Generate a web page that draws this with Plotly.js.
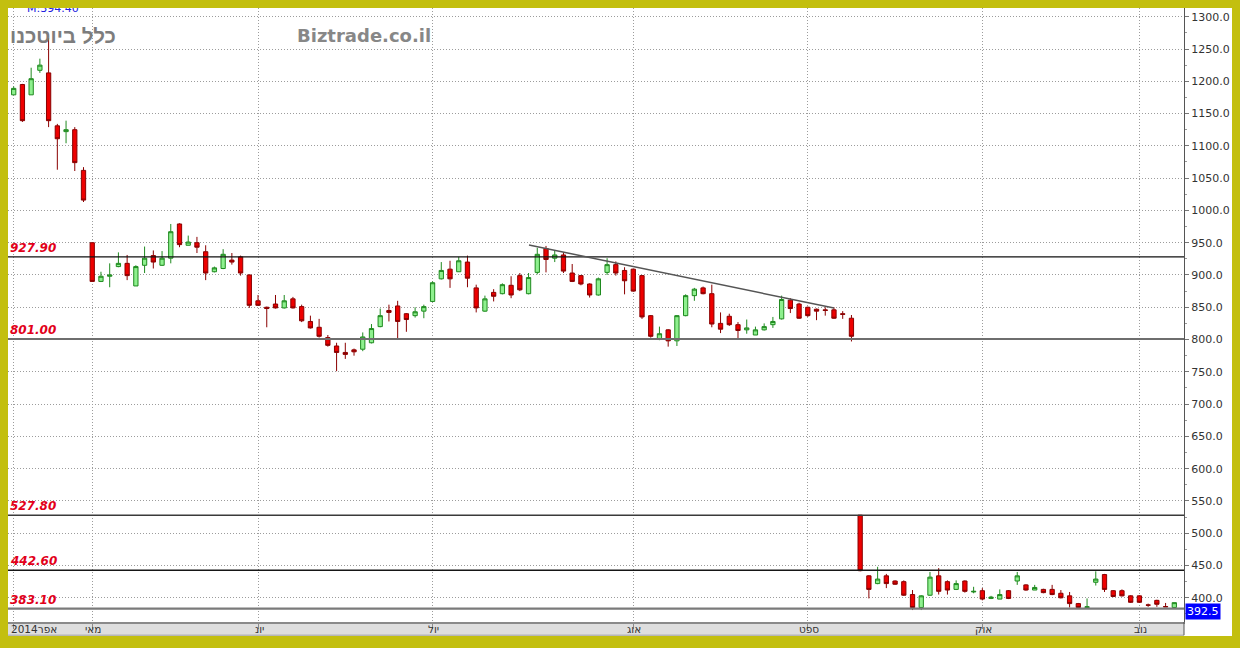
<!DOCTYPE html>
<html>
<head>
<meta charset="utf-8">
<script src="https://cdn.plot.ly/plotly-3.0.1.min.js"></script>
<style>
  html, body { margin: 0; padding: 0; background: #c3bf0f; width: 1240px; height: 648px; overflow: hidden; }
  #chart { position: absolute; left: 8px; top: 8px; width: 1224px; height: 628px; overflow: hidden; background: #fff; }
</style>
</head>
<body>
<div id="chart"></div>
<script>
// ---- data ----
const openP = [1179,1195,1179,1217,1213,1131,1122,1125,1062,950,
  890,898,913,918,883,915,930,915,926,979,
  946,950,936,905,910,923,928,900,860,850,
  855,849,863,851,828,819,803,790,780,784,
  785,795,820,845,852,840,837,844,859,894,
  909,905,920,880,844,873,871,884,899,871,
  904,941,926,931,903,899,886,869,904,916,
  907,909,899,837,800,815,798,837,868,880,
  871,825,836,823,815,807,815,823,832,861,
  855,850,847,846,846,840,833,528,434,422,
  434,426,425,405,385,404,434,425,413,426,
  409,411,399,398,411,426,420,412,413,413,
  407,403,391,385,424,436,411,411,403,403,
  389,396,386.5,385];
const highP = [1192,1196,1221,1235,1267,1134,1139,1129,1067,950,
  905,918,935,931,915,944,938,937,979,980,
  961,959,946,913,940,934,930,901,869,851,
  869,869,866,854,837,832,807,795,795,786,
  811,824,848,854,860,841,850,854,890,920,
  922,928,930,885,868,878,887,898,903,903,
  942,945,938,935,917,900,887,896,926,921,
  912,910,900,838,820,816,838,870,880,882,
  885,842,840,827,831,820,825,835,868,864,
  857,851,848,850,850,844,838,528,435,448,
  437,427,427,412,404,440,446,427,427,427,
  417,415,403,413,412,440,421,420,414,420,
  412,409,392,399,441,437,412,413,404,404,
  391,397,392,392.5];
const lowP = [1179,1137,1179,1213,1129,1063,1104,1061,1013,890,
  889,881,912,892,883,903,910,914,918,943,
  946,934,892,904,909,916,899,849,852,819,
  848,848,848,827,817,803,789,751,770,775,
  782,794,819,828,800,812,834,833,858,893,
  880,905,881,842,843,859,870,864,875,870,
  901,904,920,903,889,884,865,868,900,899,
  870,874,832,803,799,789,790,836,860,870,
  819,810,821,800,809,807,814,818,831,841,
  832,835,830,837,832,832,797,441,399,421,
  415,420,403,381,381,403,405,405,412,408,
  407,396,398,398,398,420,411,412,407,404,
  399,385,384,385,419,409,401,402,392,392,
  386,386,386,385];
const closeP = [1189,1139,1204,1225,1139,1111,1125,1074,1016,890,
  898,900,918,899,913,926,920,926,967,947,
  951,943,903,911,932,920,903,853,853,848,
  849,860,849,829,818,805,791,780,777,781,
  804,817,837,842,828,831,843,851,888,907,
  894,922,895,849,863,867,885,869,877,896,
  932,924,931,906,890,886,869,894,916,903,
  891,875,835,805,809,798,837,868,878,871,
  824,816,823,814,818,815,820,828,862,848,
  833,837,844,845,833,839,805,442,413,429,
  422,421,404,385,403,432,410,412,422,410,
  410,398,401,405,399,434,412,416,408,405,
  400,391,385,386,429,413,402,403,393,393,
  388.5,390,386,392.5];

const monthIdx = [0, 9, 28, 48, 71, 91, 111, 129];
const monthLabels = ['2014אפר', 'מאי', 'יונ', 'יול', 'אוג', 'ספט', 'אוק', 'נוב'];

const levels = [927.9, 801.0, 527.8, 442.6, 383.1];
const levelColors = ['#111111', '#6e6e6e', '#3a3a3a', '#161616', '#7a7a7a'];
const levelWidths = [1.2, 2, 1.5, 1.5, 2.2];

const trendX = [59.05, 94.0];
const trendY = [946.4, 848.8];

const lastPrice = 392.5;
const yTicks = [400,450,500,550,600,650,700,750,800,850,900,950,1000,1050,1100,1150,1200,1250,1300];

// ---- build ----
const xIdx = closeP.map((_, i) => i);

const trace = {
  type: 'candlestick',
  x: xIdx, open: openP, high: highP, low: lowP, close: closeP,
  increasing: { fillcolor: '#8ef08e', line: { color: '#1f8a1f', width: 1 } },
  decreasing: { fillcolor: '#ee0000', line: { color: '#8a0000', width: 1 } },
  whiskerwidth: 0,
  hoverinfo: 'skip',
  showlegend: false
};

const shapes = [];
levels.forEach((v, i) => {
  shapes.push({ type: 'line', xref: 'paper', x0: 0, x1: 1, yref: 'y', y0: v, y1: v,
    line: { color: levelColors[i], width: levelWidths[i] }, layer: 'above' });
});
shapes.push({ type: 'line', xref: 'x', yref: 'y', x0: trendX[0], y0: trendY[0], x1: trendX[1], y1: trendY[1],
  line: { color: '#555555', width: 1.5 }, layer: 'above' });
// x-axis label band
shapes.push({ type: 'rect', xref: 'paper', yref: 'paper', x0: 0, x1: 1, y0: -0.0215, y1: 0,
  fillcolor: '#dedede', line: { width: 0 }, layer: 'below' });
shapes.push({ type: 'line', xref: 'paper', yref: 'paper', x0: 0, x1: 1, y0: -0.0215, y1: -0.0215,
  line: { color: '#9a9a9a', width: 1 }, layer: 'below' });
shapes.push({ type: 'line', xref: 'paper', yref: 'paper', x0: 1, x1: 1, y0: -0.0215, y1: 0,
  line: { color: '#555555', width: 1 }, layer: 'above' });

const annotations = [];
levels.forEach((v) => {
  annotations.push({ xref: 'paper', x: 0, xanchor: 'left', xshift: 0, yref: 'y', y: v, yanchor: 'bottom', yshift: 0,
    text: v.toFixed(2), showarrow: false,
    font: { family: 'DejaVu Sans', size: 12, color: '#e2001a', weight: 'bold', style: 'italic' } });
});
monthIdx.forEach((m, i) => {
  annotations.push({ xref: 'x', x: m, xanchor: i === 0 ? 'left' : 'center', xshift: i === 0 ? -5 : 1,
    yref: 'paper', y: -0.0107, yanchor: 'middle', text: monthLabels[i], showarrow: false,
    font: { family: 'DejaVu Sans', size: 10.5, color: '#333333' } });
});
annotations.push({ xref: 'paper', x: 0, xanchor: 'left', xshift: 0, yref: 'paper', y: 1, yanchor: 'middle', yshift: -27,
  text: 'כלל ביוטכנו', showarrow: false,
  font: { family: 'Liberation Sans', size: 20.5, color: '#7d7d7d', weight: 'bold' } });
annotations.push({ xref: 'paper', x: 287 / 1176, xanchor: 'left', yref: 'paper', y: 1, yanchor: 'middle', yshift: -27,
  text: 'Biztrade.co.il', showarrow: false,
  font: { family: 'DejaVu Sans', size: 18, color: '#878787', weight: 'bold' } });
annotations.push({ xref: 'paper', x: 17 / 1176, xanchor: 'left', yref: 'paper', y: 1, yanchor: 'middle', yshift: 0,
  text: 'M:394.40', showarrow: false,
  font: { family: 'DejaVu Sans', size: 11, color: '#2020e0' } });
annotations.push({ xref: 'paper', x: 1, xanchor: 'left', xshift: 1, yref: 'y', y: lastPrice, yanchor: 'top',
  text: lastPrice.toFixed(1), showarrow: false, bgcolor: '#0000ff', borderpad: 1,
  font: { family: 'DejaVu Sans', size: 11, color: '#ffffff' } });

const layout = {
  width: 1224, height: 628,
  margin: { l: 0, r: 48, t: 0, b: 14, pad: 0 },
  paper_bgcolor: '#ffffff', plot_bgcolor: '#ffffff',
  showlegend: false,
  hovermode: false,
  boxgap: 0.3,
  xaxis: {
    type: 'linear', range: [-0.653, 134.11], rangeslider: { visible: false },
    tickmode: 'array', tickvals: monthIdx, showticklabels: false,
    ticks: 'outside', ticklen: 5, tickcolor: '#8a8a8a',
    showgrid: true, gridcolor: '#9c9c9c', griddash: '1px,2px', gridwidth: 1,
    zeroline: false, showline: true, linecolor: '#8a8a8a', linewidth: 2, fixedrange: true
  },
  yaxis: {
    side: 'right', range: [362.5, 1313.5],
    tickmode: 'array', tickvals: yTicks, ticktext: yTicks.map(v => v.toFixed(1)),
    ticks: 'outside', ticklen: 4, tickcolor: '#777777',
    minor: { dtick: 25, tick0: 0, ticks: 'outside', ticklen: 2, tickcolor: '#999999', showgrid: false },
    tickfont: { family: 'DejaVu Sans', size: 11, color: '#333333' },
    showgrid: true, gridcolor: '#9c9c9c', griddash: '1px,2px', gridwidth: 1,
    zeroline: false, showline: true, linecolor: '#555555', linewidth: 1, fixedrange: true
  },
  shapes: shapes,
  annotations: annotations
};

Plotly.newPlot('chart', [trace], layout, { displayModeBar: false, staticPlot: true });
</script>
</body>
</html>
